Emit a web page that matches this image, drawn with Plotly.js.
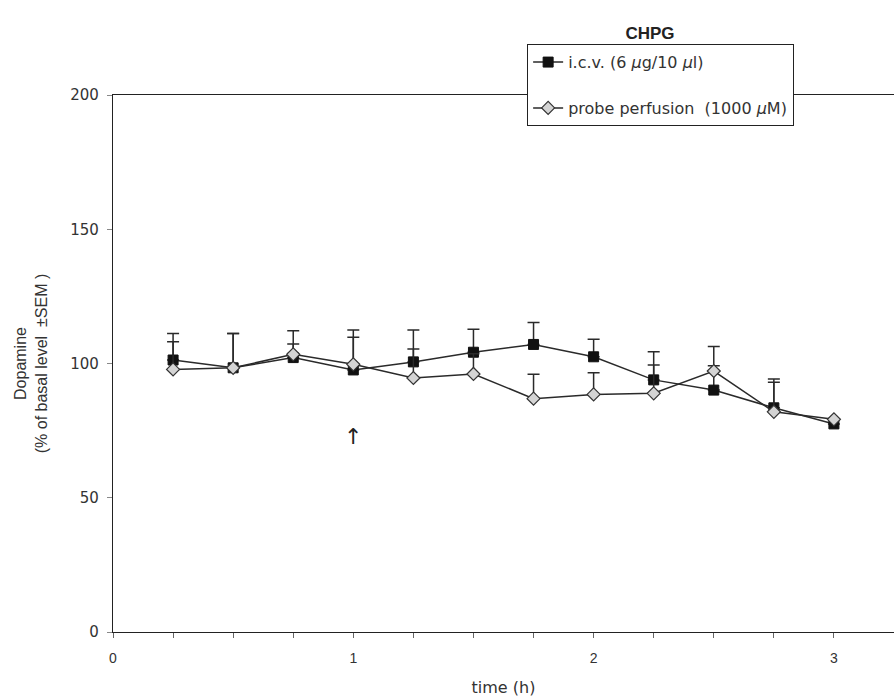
<!DOCTYPE html>
<html>
<head>
<meta charset="utf-8">
<script src="https://cdn.plot.ly/plotly-3.0.1.min.js"></script>
<style>html,body{margin:0;padding:0;background:#fff;}#chart{width:894px;height:697px;}</style>
</head>
<body>
<div id="chart"></div>
<script>
// time points (h)
const time = [0.25, 0.5, 0.75, 1.0, 1.25, 1.5, 1.75, 2.0, 2.25, 2.5, 2.75, 3.0];
// i.c.v. (6 µg/10 µl)
const icvValues = [101.3, 98.4, 102.2, 97.6, 100.6, 104.2, 107.1, 102.5, 93.9, 90.1, 83.5, 77.5];
const icvSem    = [9.9, 12.8, 5.1, 14.9, 11.9, 8.6, 8.2, 6.5, 10.5, 9.1, 10.7, 0];
// probe perfusion (1000 µM)
const probeValues = [97.8, 98.4, 103.4, 99.7, 94.6, 96.1, 86.9, 88.5, 88.9, 97.2, 82.0, 79.2];
const probeSem    = [10.3, 12.8, 8.8, 10.1, 10.8, 7.5, 9.1, 8.1, 10.5, 9.1, 11.0, 0];

const xTickVals = [0, 1, 2, 3];
const xTickText = ['0', '1', '2', '3'];
const yTickVals = [0, 50, 100, 150, 200];

const lineCol = '#2a2a2a';

const traces = [
  {
    x: time, y: icvValues, type: 'scatter', mode: 'lines+markers',
    name: 'i.c.v. (6 <i>µ</i>g/10 <i>µ</i>l)', legendgroup: 'a',
    line: {color: lineCol, width: 1.5},
    marker: {symbol: 'square', size: 10, color: '#111', line: {color: '#111', width: 1}},
    error_y: {type: 'data', symmetric: false, array: icvSem, arrayminus: icvSem.map(() => 0),
              color: lineCol, thickness: 1.5, width: 6}
  },
  {
    x: time, y: probeValues, type: 'scatter', mode: 'lines+markers',
    name: 'probe perfusion  (1000 <i>µ</i>M)', legendgroup: 'b',
    line: {color: lineCol, width: 1.5},
    marker: {symbol: 'diamond', size: 10, color: '#d4d4d4', line: {color: '#333', width: 1.2}},
    error_y: {type: 'data', symmetric: false, array: probeSem, arrayminus: probeSem.map(() => 0),
              color: lineCol, thickness: 1.5, width: 6}
  }
];

const layout = {
  width: 894, height: 697,
  margin: {l: 113, r: 0, t: 95, b: 65},
  paper_bgcolor: '#fff', plot_bgcolor: '#fff',
  font: {family: 'Liberation Sans, Arial, sans-serif', color: '#333', size: 13},
  title: {text: '<b>CHPG</b>', x: 0.727, xref: 'container', xanchor: 'center',
          y: 1 - 33/697, yref: 'container', yanchor: 'middle',
          font: {size: 17, color: '#222'}},
  xaxis: {
    range: [0, 3.25], showgrid: false, zeroline: false,
    showline: true, linecolor: '#222', linewidth: 1.2, mirror: true,
    tickvals: xTickVals, ticktext: xTickText, ticks: 'outside', ticklen: 5, tickcolor: '#666',
    minor: {dtick: 0.25, ticks: 'outside', ticklen: 5, tickcolor: '#666'},
    tickfont: {size: 14, color: '#333'}, ticklabelstandoff: 8,
    title: {text: 'time (h)', font: {size: 16, color: '#333', family: 'DejaVu Sans'}, standoff: 20}
  },
  yaxis: {
    range: [0, 200], showgrid: false, zeroline: false,
    showline: true, linecolor: '#222', linewidth: 1.2,
    tickvals: yTickVals, ticks: 'outside', ticklen: 5, tickcolor: '#888',
    tickfont: {size: 15, color: '#333', family: 'DejaVu Sans'}, ticklabelstandoff: 5,
    title: {text: 'Dopamine<br>(% of basal level  ±SEM )', font: {size: 16, color: '#333'}, standoff: 18}
  },
  showlegend: true,
  legend: {
    x: 0.530, xanchor: 'left', y: 1.095, yanchor: 'top',
    bordercolor: '#222', borderwidth: 1.2, bgcolor: '#fff',
    font: {size: 16, color: '#333', family: 'DejaVu Sans'},
    tracegroupgap: 22, itemwidth: 30
  },
  annotations: [
    {x: 1, y: 73, xref: 'x', yref: 'y', text: '↑', showarrow: false,
     font: {size: 22, color: '#222', family: 'DejaVu Sans'}, xanchor: 'center', yanchor: 'middle'}
  ]
};

Plotly.newPlot('chart', traces, layout, {displayModeBar: false, staticPlot: true});
</script>
</body>
</html>
